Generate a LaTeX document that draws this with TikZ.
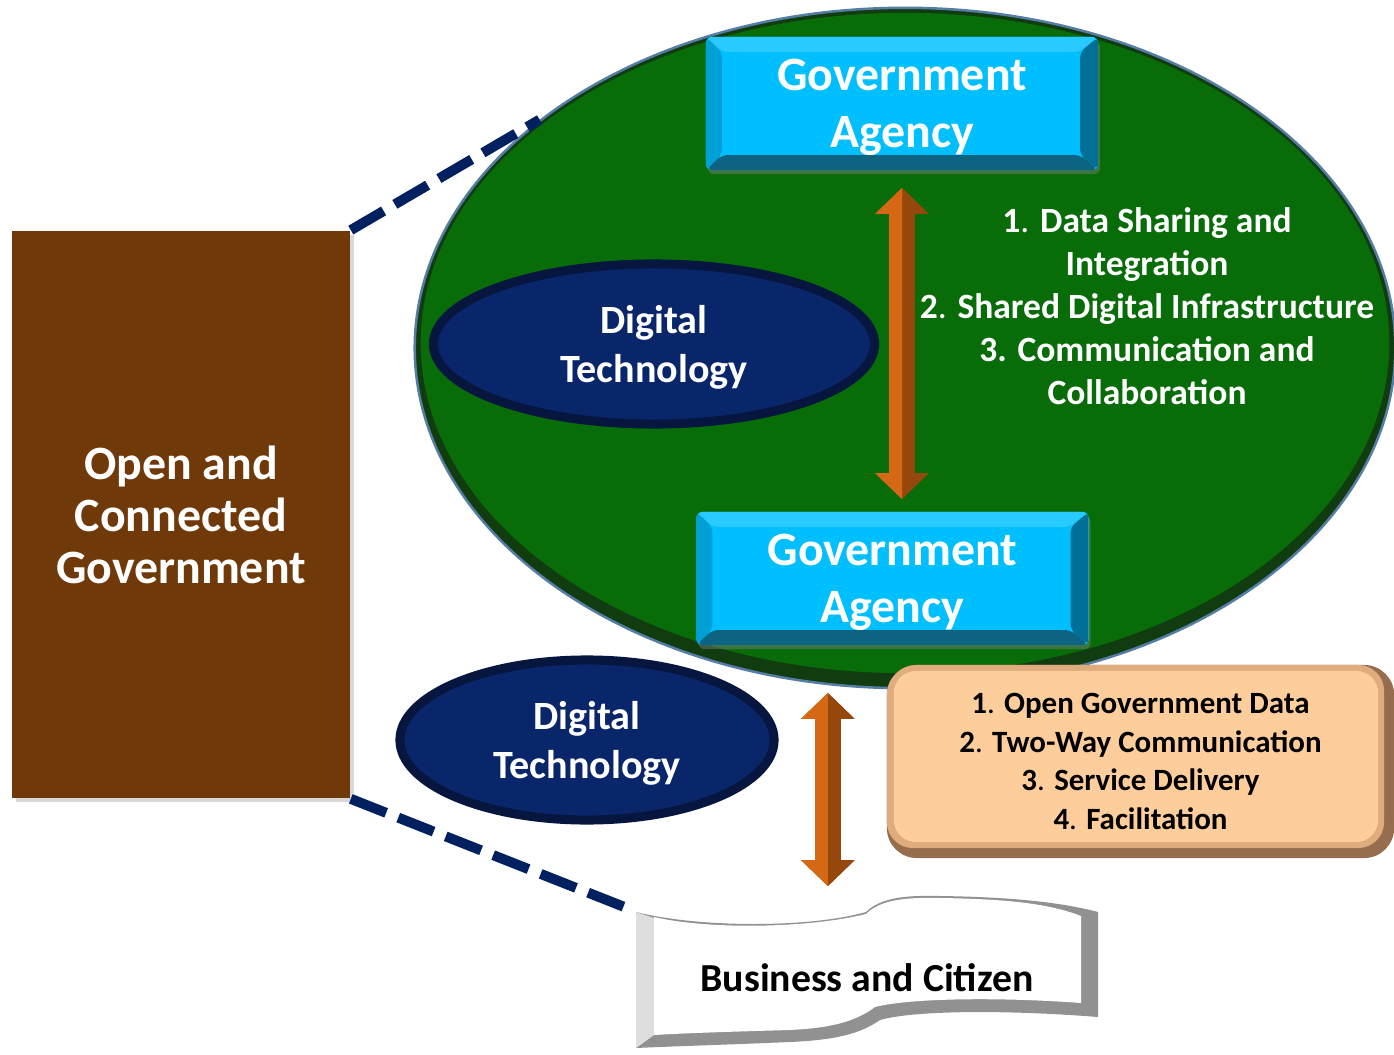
\documentclass[tikz,border=0pt]{standalone}
\usepackage{fontspec}
\setmainfont{Carlito}
\usepackage{xcolor}
\usepackage{tikz}
\usetikzlibrary{positioning}
\usetikzlibrary{calc}
\usetikzlibrary{shapes.geometric}
\usetikzlibrary{arrows.meta}
\usetikzlibrary{shadows}

\definecolor{agencyblue}{RGB}{0,191,255}
\definecolor{agencytop}{RGB}{40,202,255}
\definecolor{agencyleft}{RGB}{0,160,215}
\definecolor{agencyright}{RGB}{0,112,150}
\definecolor{agencybottom}{RGB}{12,100,130}
\definecolor{netgreen}{RGB}{8,108,8}
\definecolor{netdark}{RGB}{16,60,16}
\definecolor{netrim}{RGB}{85,125,165}
\definecolor{techblue}{RGB}{10,38,106}
\definecolor{techdark}{RGB}{6,22,62}
\definecolor{govbrown}{RGB}{112,57,10}
\definecolor{dashnavy}{RGB}{0,32,96}
\definecolor{arrowlight}{RGB}{212,104,20}
\definecolor{arrowdark}{RGB}{150,72,12}
\definecolor{servpeach}{RGB}{253,205,155}
\definecolor{servlight}{RGB}{222,172,125}
\definecolor{servedge}{RGB}{150,110,78}
\definecolor{bandgrey}{RGB}{145,145,145}
\definecolor{bandlight}{RGB}{222,222,222}

\begin{document}
\begin{tikzpicture}[x=0.01cm, y=-0.01cm,
    agencybox/.style={rectangle, rounded corners=0.06cm, fill=agencyblue, minimum width=3.92cm, minimum height=1.33cm, inner sep=0, text depth=0pt, align=center, text=white, font=\fontsize{13.6}{16.2}\selectfont\bfseries,
        drop shadow={shadow xshift=0.02cm, shadow yshift=-0.04cm, opacity=0.45},
        path picture={
            \fill[agencytop] (path picture bounding box.north west) -- ([shift={(0.16cm,-0.15cm)}]path picture bounding box.north west) -- ([shift={(-0.18cm,-0.15cm)}]path picture bounding box.north east) -- (path picture bounding box.north east) -- cycle;
            \fill[agencyleft] (path picture bounding box.north west) -- ([shift={(0.16cm,-0.15cm)}]path picture bounding box.north west) -- ([shift={(0.16cm,0.15cm)}]path picture bounding box.south west) -- (path picture bounding box.south west) -- cycle;
            \fill[agencyright] (path picture bounding box.north east) -- ([shift={(-0.18cm,-0.15cm)}]path picture bounding box.north east) -- ([shift={(-0.18cm,0.15cm)}]path picture bounding box.south east) -- (path picture bounding box.south east) -- cycle;
            \fill[agencybottom] (path picture bounding box.south west) -- ([shift={(0.16cm,0.15cm)}]path picture bounding box.south west) -- ([shift={(-0.18cm,0.15cm)}]path picture bounding box.south east) -- (path picture bounding box.south east) -- cycle;
        }},
    netoval/.style={ellipse, inner sep=0, minimum width=9.8cm, minimum height=6.8cm, fill=netdark, draw=netrim, line width=0.025cm},
    techoval/.style={ellipse, inner sep=0, minimum height=1.6cm, text depth=0pt, fill=techblue, draw=techdark, line width=0.09cm, align=center, text=white, font=\fontsize{11.4}{13.7}\selectfont\bfseries},
    govbox/.style={rectangle, fill=govbrown, minimum width=3.38cm, minimum height=5.67cm, inner sep=0, align=center, text=white, font=\fontsize{13.6}{14.8}\selectfont\bfseries,
        drop shadow={shadow xshift=0.04cm, shadow yshift=-0.04cm, opacity=0.3}},
    netlist/.style={align=center, text=white, font=\fontsize{10.1}{12.2}\selectfont\bfseries},
    servbox/.style={rectangle, rounded corners=0.3cm, fill=servedge, minimum width=5.07cm, minimum height=1.93cm, inner sep=0, align=center, font=\fontsize{8.8}{10.95}\selectfont\bfseries,
        path picture={
            \fill[servlight, rounded corners=0.26cm] (path picture bounding box.north west) rectangle ([shift={(-0.1cm,0.1cm)}]path picture bounding box.south east);
            \fill[servpeach, rounded corners=0.22cm] ([shift={(0.07cm,-0.06cm)}]path picture bounding box.north west) rectangle ([shift={(-0.16cm,0.16cm)}]path picture bounding box.south east);
        }},
    citizen/.style={rectangle, minimum width=4.62cm, minimum height=1.32cm, inner sep=0, font=\fontsize{11.3}{13.5}\selectfont\bfseries},
    flowarrow/.style={line width=0.26cm, {Triangle[width=0.52cm,length=0.26cm]}-{Triangle[width=0.52cm,length=0.26cm]}},
    dashline/.style={draw=dashnavy, line width=0.1cm, dash pattern=on 0.38cm off 0.13cm}
]
\path[use as bounding box, fill=white] (0,0) rectangle (1394,1055);

% agencies network
\node[netoval] (net) at (905,348) {};
\fill[netgreen] ([yshift=0.05cm]net.center) ellipse [x radius=4.84cm, y radius=3.3cm];

\node[techoval, minimum width=4.41cm] (tech1) at (654,344) {Digital\\Technology};
\node[agencybox] (ga1) at (902,103.5) {Government\\Agency};
\node[agencybox] (ga2) at (892.5,578.5) {Government\\Agency};
\node[netlist] (share) at (1147,306) {1{\mdseries.} Data Sharing and\\Integration\\2{\mdseries.} Shared Digital Infrastructure\\3. Communication and\\Collaboration};

\draw[flowarrow, draw=arrowdark, shorten <=0.17cm, shorten >=0.12cm] (ga1.south) -- (ga1.south |- ga2.north);
\begin{scope}
    \clip ([xshift=-1cm]ga1.south) rectangle (ga1.south |- ga2.north);
    \draw[flowarrow, draw=arrowlight, shorten <=0.17cm, shorten >=0.12cm] (ga1.south) -- (ga1.south |- ga2.north);
\end{scope}

% left block
\node[govbox] (ocg) at (181,514.5) {Open and\\Connected\\Government};

% citizens
\node[techoval, minimum width=3.74cm] (tech2) at (587,740) {Digital\\Technology};
\node[servbox] (serv) at (1140.5,761.5) {1{\mdseries.} Open Government Data\\2{\mdseries.} Two-Way Communication\\3{\mdseries.} Service Delivery\\4{\mdseries.} Facilitation};

\fill[bandgrey] (636,912) .. controls (700,928) and (810,928) .. (866,912) .. controls (880,898) and (905,895) .. (940,896) .. controls (1010,897) and (1060,902) .. (1098,912) -- (1098,1017) .. controls (1010,1010) and (915,1010) .. (880,1020) .. controls (860,1034) and (835,1040) .. (790,1042) .. controls (720,1045) and (680,1046) .. (636,1048) -- cycle;
\fill[bandlight] (636,912) -- (654,918) -- (654,1035) -- (636,1048) -- cycle;
\fill[white] (654,917) .. controls (710,930) and (810,928) .. (866,914) .. controls (880,900) and (905,897) .. (940,898) .. controls (1010,899) and (1050,904) .. (1081,916) -- (1081,1003) .. controls (1000,997) and (910,998) .. (875,1007) .. controls (855,1022) and (830,1028) .. (790,1030) .. controls (720,1032) and (690,1033) .. (654,1035) -- cycle;
\node[citizen] (bc) at (867,978) {Business and Citizen};

\coordinate (down2) at ([xshift=-0.645cm]ga2.south);
\draw[flowarrow, draw=arrowdark, shorten <=0.47cm, shorten >=0.25cm] (down2) -- (down2 |- bc.north);
\begin{scope}
    \clip ([xshift=-1cm]down2) rectangle (down2 |- bc.north);
    \draw[flowarrow, draw=arrowlight, shorten <=0.47cm, shorten >=0.25cm] (down2) -- (down2 |- bc.north);
\end{scope}

\draw[dashline] (ocg.north east) -- (net.148);
\draw[dashline] (ocg.south east) -- (bc.north west);

\end{tikzpicture}
\end{document}
